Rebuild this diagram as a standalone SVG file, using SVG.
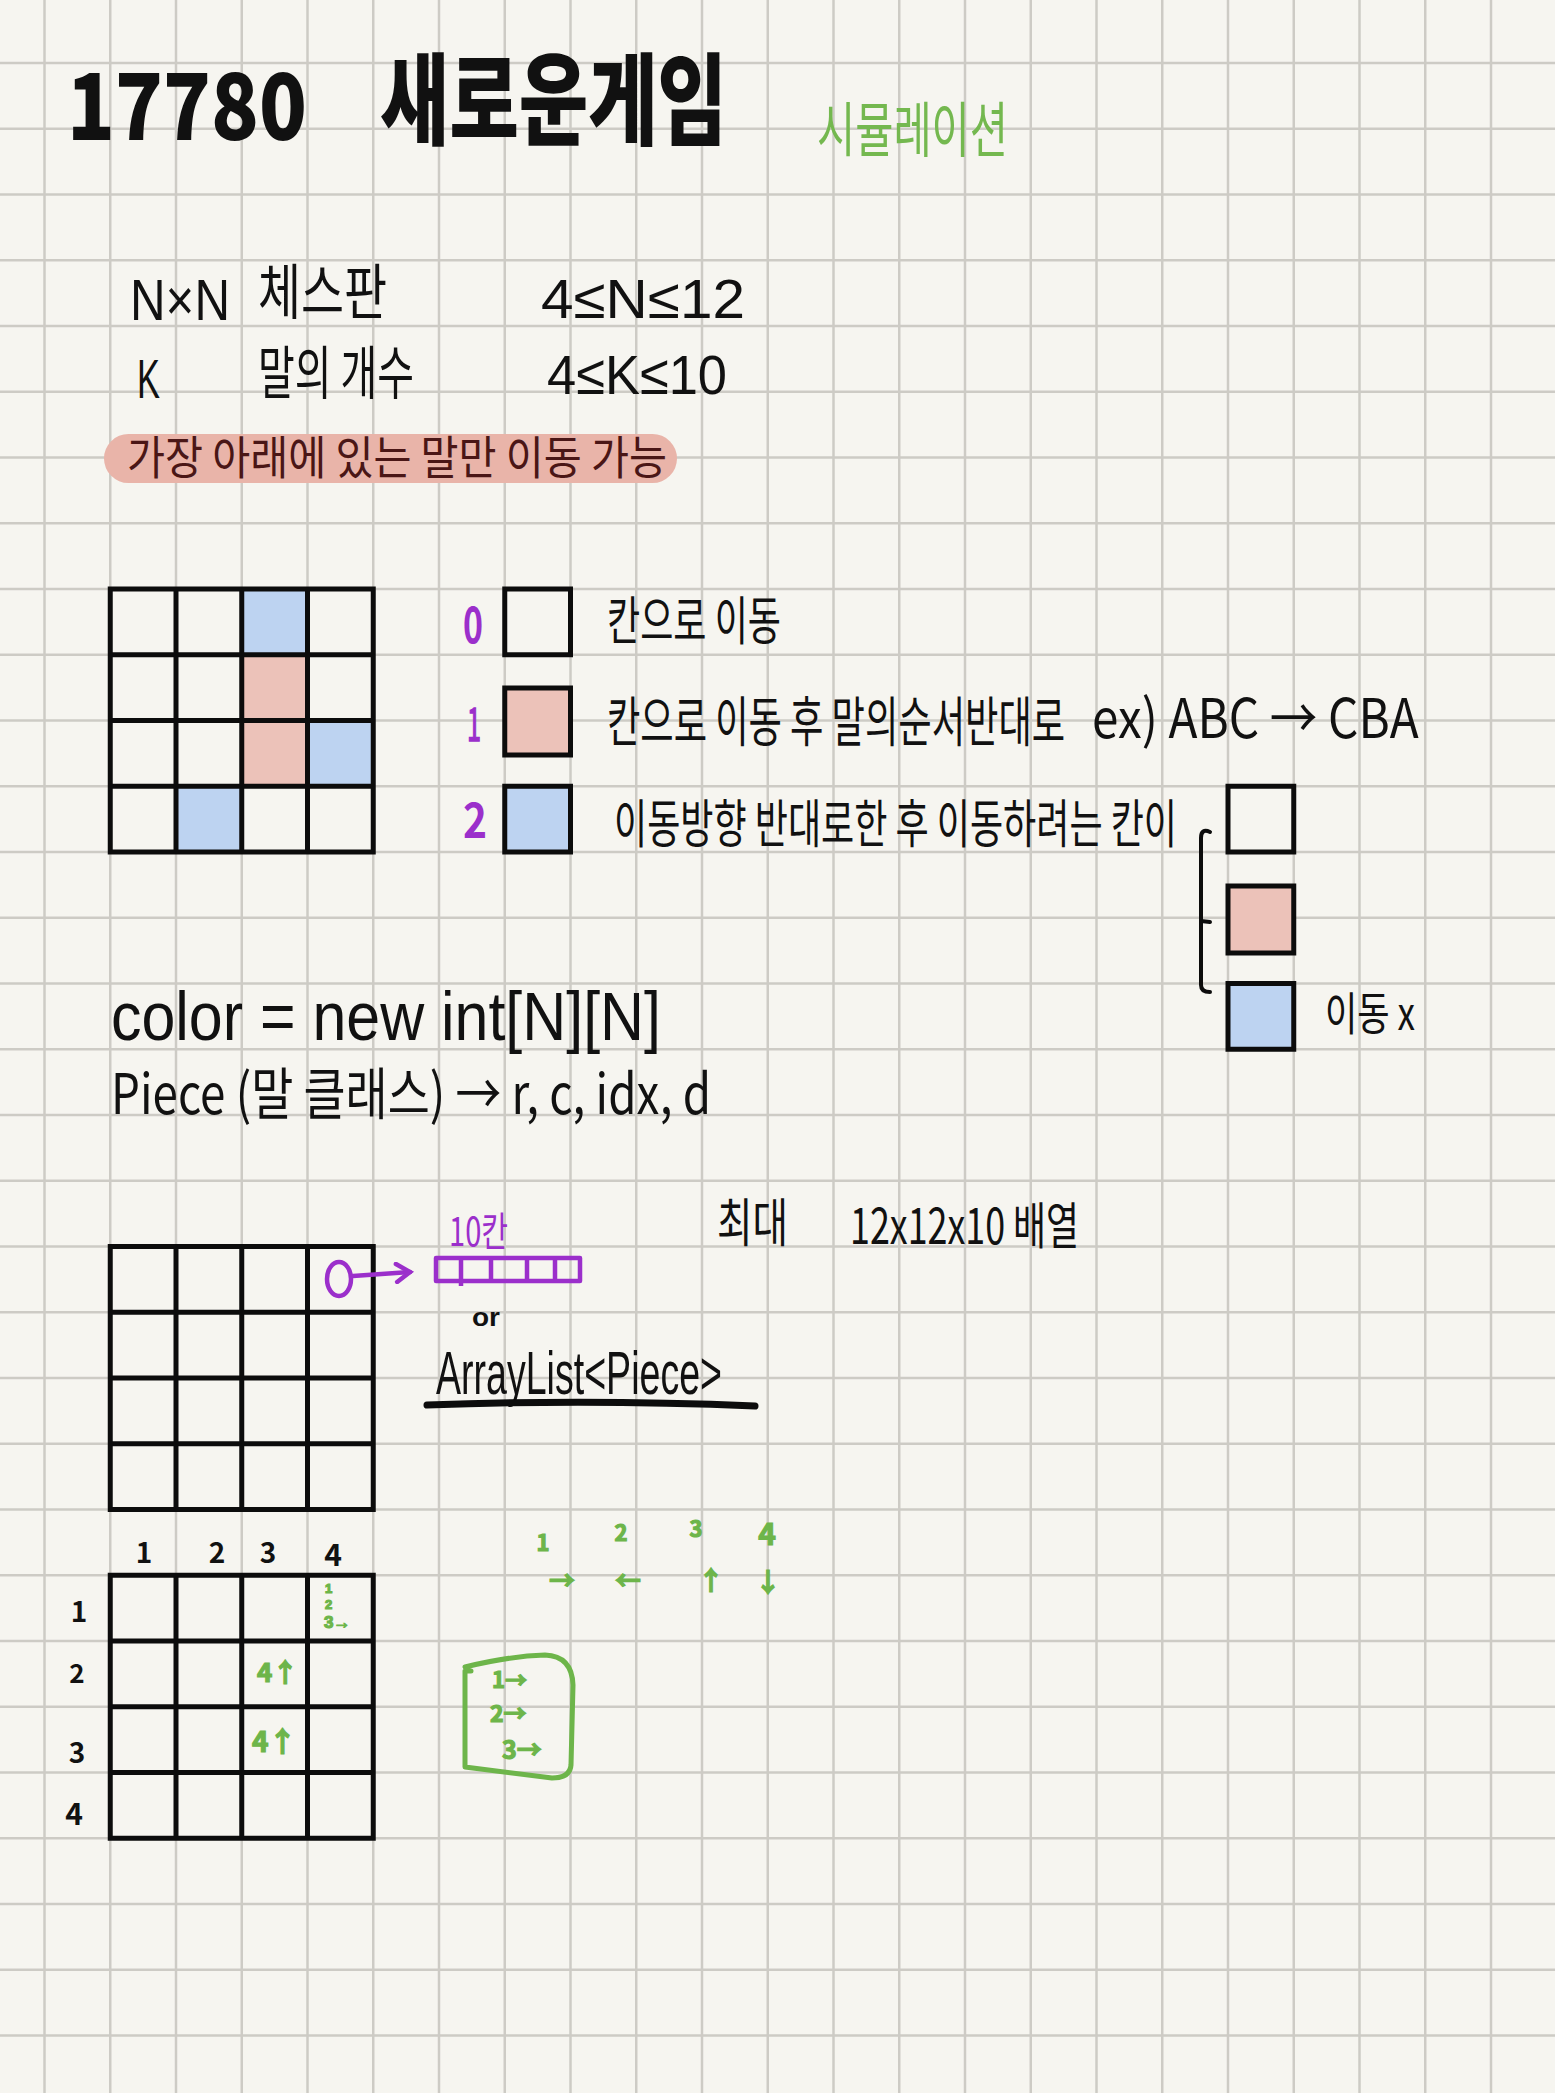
<svg xmlns="http://www.w3.org/2000/svg" width="1555" height="2093" viewBox="0 0 1555 2093">
<style>
.t{font-family:"Noto Sans CJK KR","Noto Sans",sans-serif;fill:#111}
.l{font-family:"Liberation Sans",Arial,sans-serif}
.b{font-weight:700}
.h{font-weight:900}
.p{fill:#9b2fcb}
.g{fill:#6db54a;font-weight:700;stroke:#6db54a;stroke-width:1.2}
.m{fill:#4a1616}
.bd{fill:none;stroke:#0c0c0c;stroke-width:5;stroke-linecap:square}
.gl{fill:none;stroke:#cdcbc5;stroke-width:2.5}
.pk{fill:#ecc2b9}
.bl{fill:#bdd3f1}
.bx{stroke:#0c0c0c;stroke-width:5}
</style>
<defs>
<marker id="pa" viewBox="0 0 10 10" refX="8" refY="5" markerWidth="5" markerHeight="5" orient="auto" markerUnits="strokeWidth"><path d="M2 1 L8 5 L2 9" fill="none" stroke="#9b2fcb" stroke-width="2" stroke-linecap="round"/></marker>
</defs>
<rect width="1555" height="2093" fill="#f6f5f0"/>
<g id="grid">
<path class="gl" d="M44.5 0V2093M110.25 0V2093M176 0V2093M241.75 0V2093M307.5 0V2093M373.25 0V2093M439 0V2093M504.75 0V2093M570.5 0V2093M636.25 0V2093M702 0V2093M767.75 0V2093M833.5 0V2093M899.25 0V2093M965 0V2093M1030.75 0V2093M1096.5 0V2093M1162.25 0V2093M1228 0V2093M1293.75 0V2093M1359.5 0V2093M1425.25 0V2093M1491 0V2093
M0 63H1555M0 128.75H1555M0 194.5H1555M0 260.25H1555M0 326H1555M0 391.75H1555M0 457.5H1555M0 523.25H1555M0 589H1555M0 654.75H1555M0 720.5H1555M0 786.25H1555M0 852H1555M0 917.75H1555M0 983.5H1555M0 1049.25H1555M0 1115H1555M0 1180.75H1555M0 1246.5H1555M0 1312.25H1555M0 1378H1555M0 1443.75H1555M0 1509.5H1555M0 1575.25H1555M0 1641H1555M0 1706.75H1555M0 1772.5H1555M0 1838.25H1555M0 1904H1555M0 1969.75H1555M0 2035.5H1555"/>
</g>
<g id="title">
<text class="t h" x="67" y="140" font-size="92" textLength="240" lengthAdjust="spacingAndGlyphs">17780</text>
<text class="t h" x="380" y="137" font-size="100" textLength="347" lengthAdjust="spacingAndGlyphs">새로운게임</text>
<text class="t" x="817" y="152" font-size="60" textLength="191" lengthAdjust="spacingAndGlyphs" style="fill:#74b84f">시뮬레이션</text>
</g>
<g id="constraints">
<text class="t l" x="130" y="320" font-size="58" textLength="100" lengthAdjust="spacingAndGlyphs">N×N</text>
<text class="t l" x="137" y="398" font-size="56" textLength="23" lengthAdjust="spacingAndGlyphs">K</text>
<text class="t" x="258" y="314" font-size="60" textLength="129" lengthAdjust="spacingAndGlyphs">체스판</text>
<text class="t" x="258" y="394" font-size="58" textLength="156" lengthAdjust="spacingAndGlyphs">말의 개수</text>
<text class="t l" x="541" y="318" font-size="56" textLength="204" lengthAdjust="spacingAndGlyphs">4≤N≤12</text>
<text class="t l" x="547" y="394" font-size="56" textLength="180" lengthAdjust="spacingAndGlyphs">4≤K≤10</text>
</g>
<g id="highlight">
<rect x="104" y="434" width="573" height="49" rx="24.5" fill="#e9b4a9"/>
<text class="t m" x="127" y="474" font-size="46" textLength="540" lengthAdjust="spacingAndGlyphs">가장 아래에 있는 말만 이동 가능</text>
</g>
<g id="board1">
<rect class="bl" x="241.75" y="589" width="65.75" height="65.75"/>
<rect class="pk" x="241.75" y="654.75" width="65.75" height="131.5"/>
<rect class="bl" x="307.5" y="720.5" width="65.75" height="65.75"/>
<rect class="bl" x="176" y="786.25" width="65.75" height="65.75"/>
<path class="bd" d="M110.25 589H373.25V852H110.25Z M176 589V852M241.75 589V852M307.5 589V852 M110.25 654.75H373.25M110.25 720.5H373.25M110.25 786.25H373.25"/>
</g>
<g id="legend0">
<text class="t p b" x="463" y="643" font-size="50" textLength="20" lengthAdjust="spacingAndGlyphs">0</text>
<rect x="504.75" y="589" width="65.75" height="65.75" fill="none" class="bx"/>
<text class="t" x="607" y="640" font-size="52" textLength="174" lengthAdjust="spacingAndGlyphs">칸으로 이동</text>
</g>
<g id="legend1">
<text class="t p" x="467" y="741" font-size="46" textLength="14" lengthAdjust="spacingAndGlyphs" style="stroke:#9b2fcb;stroke-width:1.5">1</text>
<rect x="504.75" y="688" width="65.75" height="67" class="pk bx"/>
<text class="t" transform="translate(607 742) scale(0.62 1)" x="0" y="0" font-size="54" textLength="739" lengthAdjust="spacingAndGlyphs">칸으로 이동 후 말의순서반대로</text>
<text class="t" transform="translate(1092 738) scale(0.89 1)" x="0" y="0" font-size="54" textLength="367" lengthAdjust="spacingAndGlyphs">ex) ABC → CBA</text>
</g>
<g id="legend2">
<text class="t p b" x="463" y="838" font-size="48" textLength="24" lengthAdjust="spacingAndGlyphs">2</text>
<rect x="504.75" y="786.25" width="65.75" height="65.75" class="bl bx"/>
<text class="t" x="614" y="843" font-size="52" textLength="563" lengthAdjust="spacingAndGlyphs">이동방향 반대로한 후 이동하려는 칸이</text>
</g>
<g id="targets">
<rect x="1228" y="786.25" width="65.75" height="65.75" fill="none" class="bx"/>
<rect x="1228" y="886" width="65.75" height="67" class="pk bx"/>
<rect x="1228" y="983.5" width="65.75" height="65.75" class="bl bx"/>
<text class="t" x="1325" y="1030" font-size="46" textLength="90" lengthAdjust="spacingAndGlyphs">이동 x</text>
</g>
<g id="code">
<text class="t l" x="111" y="1040" font-size="68" textLength="550" lengthAdjust="spacingAndGlyphs">color = new int[N][N]</text>
<text class="t" x="111" y="1114" font-size="56" textLength="600" lengthAdjust="spacingAndGlyphs">Piece (말 클래스) → r, c, idx, d</text>
</g>
<g id="board2">
<path class="bd" d="M110.25 1246.5H373.25V1509.5H110.25Z M176 1246.5V1509.5M241.75 1246.5V1509.5M307.5 1246.5V1509.5 M110.25 1312.25H373.25M110.25 1378H373.25M110.25 1443.75H373.25"/>
<ellipse cx="339" cy="1279" rx="12" ry="17" fill="none" stroke="#9b2fcb" stroke-width="4.5"/>
</g>
<g id="array">
<text class="t p" x="449" y="1246" font-size="40" textLength="59" lengthAdjust="spacingAndGlyphs">10칸</text>
<path d="M436 1258H580V1281H436Z M461 1258V1286M491 1260V1281M527 1258V1281M555 1258V1281" fill="none" stroke="#9b2fcb" stroke-width="4.5" stroke-linejoin="round"/>
<text class="t l b" x="472" y="1326" font-size="26" textLength="28" lengthAdjust="spacingAndGlyphs">or</text>
<text class="t l" x="436" y="1394" font-size="62" textLength="286" lengthAdjust="spacingAndGlyphs">ArrayList&lt;Piece&gt;</text>
<path d="M427 1405 Q590 1399 755 1406" fill="none" stroke="#0c0c0c" stroke-width="7" stroke-linecap="round"/>
</g>
<g id="max">
<text class="t" x="717" y="1242" font-size="52" textLength="71" lengthAdjust="spacingAndGlyphs">최대</text>
<text class="t" x="850" y="1244" font-size="50" textLength="229" lengthAdjust="spacingAndGlyphs">12x12x10 배열</text>
</g>
<g id="board3">
<path class="bd" d="M110.25 1575.25H373.25V1838.25H110.25Z M176 1575.25V1838.25M241.75 1575.25V1838.25M307.5 1575.25V1838.25 M110.25 1641H373.25M110.25 1706.75H373.25M110.25 1772.5H373.25"/>
<text class="t b" font-size="28" text-anchor="middle"><tspan x="144" y="1563">1</tspan><tspan x="217" y="1563">2</tspan><tspan x="268" y="1563">3</tspan><tspan x="333" y="1566" font-size="30">4</tspan></text>
<text class="t b" font-size="28" text-anchor="middle"><tspan x="79" y="1622">1</tspan><tspan x="77" y="1683" font-size="26">2</tspan><tspan x="77" y="1763">3</tspan><tspan x="74" y="1825" font-size="30">4</tspan></text>
<text class="t l g" font-size="13"><tspan x="325" y="1593">1</tspan><tspan x="325" y="1608.5">2</tspan><tspan x="324" y="1628" font-size="17">3→</tspan></text>
<text class="t g" x="257" y="1682" font-size="26">4↑</text>
<text class="t g" x="252" y="1752" font-size="28">4↑</text>
</g>
<g id="directions">
<text class="t g" font-size="22" text-anchor="middle"><tspan x="543" y="1551">1</tspan><tspan x="621" y="1541">2</tspan><tspan x="696" y="1537">3</tspan><tspan x="767" y="1545" font-size="30">4</tspan></text>
<text class="t g" font-size="26" text-anchor="middle"><tspan x="562" y="1590">→</tspan><tspan x="628" y="1590">←</tspan><tspan x="711" y="1590">↑</tspan><tspan x="768" y="1592">↓</tspan></text>
</g>
<g id="greenbox">
<path d="M465 1667 Q510 1656 545 1655 Q572 1656 573 1685 L571 1765 Q570 1778 552 1778 L465 1767 L465 1671 L471 1671" fill="none" stroke="#6db54a" stroke-width="5" stroke-linecap="round" stroke-linejoin="round"/>
<text class="t g" font-size="22"><tspan x="492" y="1688">1→</tspan><tspan x="490" y="1722" font-size="23">2→</tspan><tspan x="502" y="1759" font-size="25">3→</tspan></text>
</g>
<g id="connectors">
<path d="M353 1276 L410 1272" fill="none" stroke="#9b2fcb" stroke-width="4.5" stroke-linecap="round" marker-end="url(#pa)"/>
<path d="M1210 832 Q1201 828 1201 838 L1201 985 Q1201 992 1210 992 M1201 921 L1210 922" fill="none" stroke="#0c0c0c" stroke-width="4" stroke-linecap="round"/>
</g>
</svg>
